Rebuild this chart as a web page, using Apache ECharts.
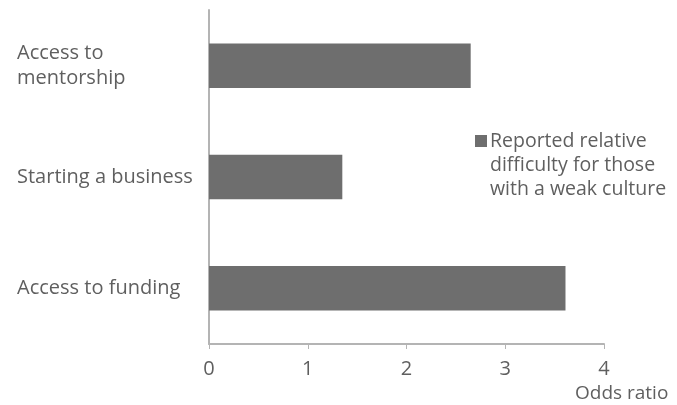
<!DOCTYPE html>
<html>
<head>
<meta charset="utf-8">
<script src="https://cdn.jsdelivr.net/npm/echarts@6/dist/echarts.min.js"></script>
<style>
  html, body { margin: 0; padding: 0; background: #fff; }
  #chart { width: 677px; height: 405px; }
</style>
</head>
<body>
<div id="chart"></div>
<script>
// Categories listed top to bottom
const categories = ['Access to\nmentorship', 'Starting a business', 'Access to funding'];
// Odds ratios for each category
const oddsRatios = [2.65, 1.35, 3.61];
const xTicks = [0, 1, 2, 3, 4];
const seriesName = 'Reported relative difficulty for those with a weak culture';
const legendLines = ['Reported relative', 'difficulty for those', 'with a weak culture'];
const axisTitle = 'Odds ratio';

const textColor = '#5f5f5f';
const axisColor = '#b4b4b4';
const barColor = '#6e6e6e';
const fontFamily = '"Open Sans", sans-serif';

const chart = echarts.init(document.getElementById('chart'), null, { renderer: 'canvas' });

chart.setOption({
  animation: false,
  textStyle: { fontFamily: fontFamily },
  grid: { left: 209, right: 73, top: 10, bottom: 61, containLabel: false },
  xAxis: {
    type: 'value',
    min: xTicks[0],
    max: xTicks[xTicks.length - 1],
    interval: 1,
    splitLine: { show: false },
    axisLine: { show: true, lineStyle: { color: axisColor, width: 2 } },
    axisTick: { show: true, length: 5, lineStyle: { color: axisColor, width: 1 } },
    axisLabel: { color: textColor, fontSize: 20, margin: 15, fontFamily: fontFamily }
  },
  yAxis: {
    type: 'category',
    inverse: true,
    data: categories,
    axisLine: { show: true, lineStyle: { color: axisColor, width: 2 } },
    axisTick: { show: false },
    axisLabel: {
      color: textColor, fontSize: 20, align: 'left', margin: 192,
      lineHeight: 25, fontFamily: fontFamily
    }
  },
  legend: {
    show: true,
    left: 470,
    top: 131,
    icon: 'none',
    itemWidth: 0,
    itemGap: 0,
    padding: 0,
    selectedMode: false,
    formatter: function () {
      return legendLines.map(function (line, i) {
        return (i === 0 ? '{sq|}' : '{sp|}') + '{t|' + line + '}';
      }).join('\n');
    },
    textStyle: {
      rich: {
        sq: { width: 12, height: 12, backgroundColor: barColor },
        sp: { width: 12, height: 12 },
        t: { color: textColor, fontSize: 19.5, lineHeight: 24, padding: [0, 0, 0, 3], fontFamily: fontFamily }
      }
    },
    data: [seriesName]
  },
  graphic: [{
    type: 'text',
    left: 575,
    top: 384,
    style: { text: axisTitle, fill: textColor, fontSize: 19, fontFamily: fontFamily }
  }],
  series: [{
    name: seriesName,
    type: 'bar',
    data: oddsRatios,
    barWidth: '40%',
    itemStyle: { color: barColor }
  }]
});
</script>
</body>
</html>
